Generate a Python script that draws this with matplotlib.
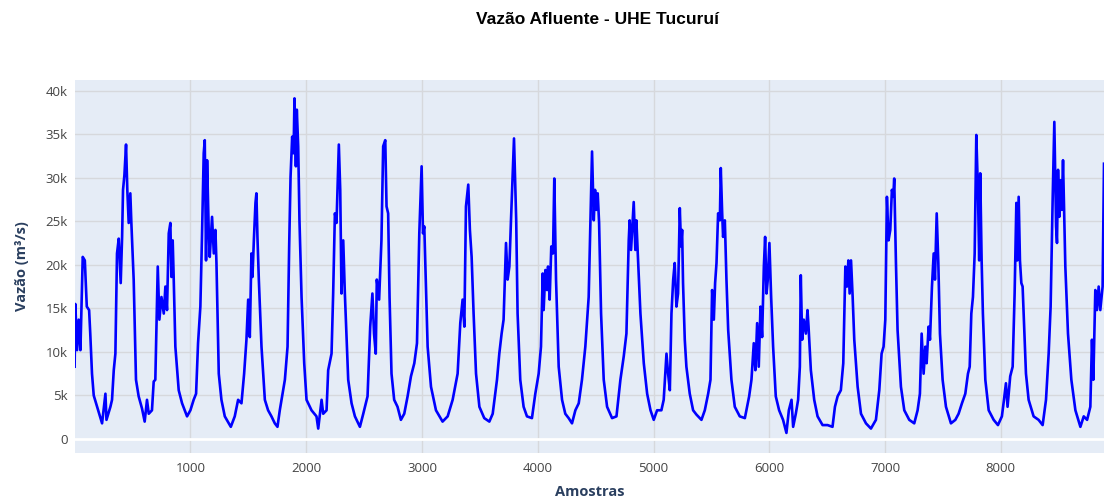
import matplotlib

matplotlib.use("Agg")
import matplotlib.pyplot as plt
from matplotlib.ticker import FuncFormatter


TITLE = "Vazão Afluente - UHE Tucuruí"
X_LABEL = "Amostras"
Y_LABEL = "Vazão (m³/s)"

# sample index at peaks, troughs and spikes
amostras = [
    0, 6, 21, 35, 50, 70, 88, 105, 125, 135, 150, 165, 194, 237, 266, 275, 309, 323, 338, 352,
    366, 381, 398, 410, 418, 430, 444, 455, 467, 481, 490, 510, 530, 553, 582, 605, 625, 640, 668, 683,
    697, 718, 732, 750, 770, 784, 798, 813, 827, 836, 847, 856, 870, 899, 928, 971, 1000, 1028, 1049, 1066,
    1086, 1100, 1115, 1124, 1135, 1144, 1158, 1167, 1187, 1202, 1216, 1225, 1245, 1268, 1297, 1349, 1383, 1412, 1441, 1464,
    1484, 1499, 1513, 1527, 1536, 1548, 1562, 1570, 1579, 1591, 1614, 1643, 1671, 1700, 1729, 1752, 1772, 1787, 1816, 1839,
    1853, 1865, 1879, 1891, 1899, 1911, 1919, 1931, 1942, 1960, 1983, 2003, 2046, 2089, 2104, 2133, 2147, 2176, 2190, 2219,
    2233, 2248, 2262, 2282, 2294, 2305, 2320, 2334, 2363, 2392, 2421, 2464, 2493, 2530, 2553, 2572, 2586, 2601, 2610, 2630,
    2639, 2650, 2665, 2683, 2694, 2708, 2720, 2737, 2760, 2789, 2818, 2847, 2876, 2905, 2934, 2957, 2977, 2997, 3009, 3020,
    3032, 3049, 3078, 3121, 3178, 3222, 3265, 3308, 3331, 3351, 3366, 3380, 3400, 3414, 3429, 3446, 3467, 3496, 3538, 3582,
    3611, 3648, 3668, 3688, 3705, 3726, 3740, 3755, 3769, 3795, 3814, 3826, 3849, 3878, 3907, 3950, 3979, 4008, 4028, 4043,
    4051, 4066, 4080, 4089, 4103, 4117, 4132, 4143, 4158, 4181, 4210, 4238, 4267, 4296, 4325, 4354, 4382, 4411, 4440, 4455,
    4469, 4484, 4495, 4507, 4518, 4530, 4547, 4570, 4599, 4642, 4680, 4714, 4743, 4766, 4786, 4794, 4806, 4820, 4829, 4843,
    4852, 4864, 4887, 4916, 4945, 4974, 5002, 5031, 5068, 5088, 5112, 5126, 5141, 5155, 5170, 5183, 5198, 5212, 5227, 5238,
    5247, 5255, 5270, 5284, 5313, 5342, 5371, 5414, 5443, 5472, 5492, 5506, 5521, 5532, 5544, 5558, 5573, 5581, 5593, 5601,
    5616, 5630, 5645, 5673, 5702, 5745, 5789, 5826, 5846, 5866, 5880, 5895, 5909, 5924, 5938, 5953, 5964, 5976, 5987, 6001,
    6016, 6033, 6056, 6085, 6119, 6148, 6169, 6192, 6206, 6229, 6249, 6264, 6272, 6284, 6298, 6316, 6330, 6339, 6359, 6388,
    6417, 6460, 6503, 6546, 6567, 6590, 6618, 6639, 6657, 6671, 6683, 6694, 6706, 6720, 6734, 6763, 6792, 6835, 6878, 6921,
    6950, 6970, 6987, 7002, 7016, 7030, 7045, 7059, 7071, 7079, 7094, 7108, 7137, 7166, 7209, 7252, 7281, 7301, 7316, 7333,
    7348, 7359, 7376, 7388, 7405, 7420, 7431, 7446, 7460, 7474, 7497, 7526, 7569, 7607, 7635, 7664, 7693, 7716, 7731, 7745,
    7759, 7774, 7788, 7802, 7813, 7822, 7834, 7845, 7866, 7895, 7938, 7975, 8009, 8027, 8044, 8058, 8081, 8102, 8119, 8134,
    8142, 8154, 8165, 8177, 8188, 8200, 8217, 8240, 8283, 8326, 8361, 8390, 8413, 8430, 8448, 8462, 8477, 8485, 8494, 8505,
    8514, 8526, 8537, 8549, 8557, 8580, 8609, 8644, 8687, 8716, 8745, 8773, 8787, 8799, 8816, 8830, 8845, 8859, 8879, 8891,
]

# inflow in m3/s at the samples above
vazao = [
    8300, 15500, 10200, 13700, 10200, 20900, 20500, 15200, 14800, 12100, 7500, 5000, 3700, 1800, 5200, 2200, 3700, 4500, 7900, 9800,
    21300, 23000, 17900, 23200, 28600, 30300, 33800, 28600, 24800, 28200, 24800, 18300, 6800, 4900, 3500, 2000, 4500, 2900, 3300, 6600,
    6800, 19800, 13700, 16300, 14400, 17500, 14800, 23600, 24800, 18600, 22800, 18300, 10600, 5600, 4100, 2600, 3300, 4500, 5200, 11000,
    15200, 23200, 32800, 34300, 20500, 32000, 24000, 20900, 25500, 21300, 24000, 20200, 7500, 4500, 2600, 1400, 2600, 4500, 4100, 7500,
    11400, 16000, 11700, 21300, 18600, 22800, 27100, 28200, 23200, 18300, 10600, 4500, 3300, 2600, 1800, 1400, 3300, 4500, 6800, 10600,
    22100, 30100, 34700, 32800, 39100, 31300, 37800, 33600, 25100, 16300, 8700, 4500, 3300, 2600, 1200, 4500, 2900, 3300, 7900, 9800,
    16700, 25900, 24800, 33800, 28600, 16700, 22800, 16700, 6800, 4100, 2600, 1400, 2900, 4900, 12900, 16700, 12100, 9800, 18300, 16000,
    19000, 22800, 33600, 34300, 26700, 25900, 16300, 7500, 4500, 3700, 2200, 2900, 4900, 7200, 8700, 11000, 23600, 31300, 23600, 24400,
    18600, 10600, 6000, 3300, 2000, 2600, 4500, 7500, 13300, 16000, 12900, 26700, 29200, 24000, 20900, 14400, 7500, 3700, 2400, 2000,
    2900, 6800, 9800, 12100, 13700, 22500, 18300, 19800, 25100, 34500, 25100, 14400, 6800, 3700, 2600, 2400, 5200, 7500, 10600, 19000,
    14800, 19400, 17100, 19800, 16000, 22100, 21300, 29900, 18300, 8300, 4500, 2900, 2400, 1800, 3300, 4100, 6800, 10600, 16300, 25100,
    33000, 25100, 28600, 26300, 28200, 24800, 14400, 6800, 3700, 2400, 2600, 6800, 9500, 12100, 22800, 25100, 21700, 25100, 27200, 21700,
    25100, 21300, 14400, 8700, 5200, 3300, 2200, 3300, 3300, 4500, 9800, 7500, 5600, 14400, 18300, 20200, 15200, 16700, 26500, 22100,
    24000, 17900, 11400, 8300, 5200, 3300, 2800, 2200, 3300, 5200, 6800, 17100, 13700, 17900, 20200, 25900, 25100, 31100, 25900, 23200,
    25100, 18300, 12500, 6800, 3700, 2600, 2400, 4900, 6800, 11000, 7900, 13300, 8300, 15200, 11700, 19800, 23200, 16700, 18300, 22500,
    16300, 10600, 4900, 3300, 2200, 700, 3300, 4500, 1400, 2900, 4500, 8300, 18800, 11400, 13700, 12100, 14800, 12900, 7900, 4500,
    2600, 1600, 1600, 1400, 3700, 4900, 5600, 8700, 19800, 17500, 20500, 16700, 20500, 16300, 11400, 6000, 2900, 1800, 1200, 2200,
    5600, 9800, 10600, 13700, 27800, 22800, 24000, 28600, 27800, 29900, 20200, 12500, 6000, 3300, 2200, 1800, 3300, 5200, 12100, 7500,
    10600, 8700, 12900, 11400, 17500, 21300, 18300, 25900, 20200, 12100, 6800, 3700, 1800, 2200, 2900, 4100, 5200, 7500, 8300, 14400,
    16300, 21300, 34900, 28600, 20500, 30500, 20500, 14400, 6800, 3300, 2200, 1600, 2600, 4500, 6400, 3700, 7200, 8300, 16700, 27100,
    20500, 27800, 20500, 17900, 17500, 13300, 7500, 4500, 2600, 2200, 1600, 4500, 9800, 15200, 27800, 36400, 24400, 22500, 30900, 25500,
    29700, 26300, 32000, 24400, 19800, 12100, 6800, 3300, 1400, 2600, 2200, 3700, 11400, 6800, 17100, 14800, 17500, 14800, 17500, 31600,
]

Y_TICKS = [0, 5000, 10000, 15000, 20000, 25000, 30000, 35000, 40000]
X_TICKS = [1000, 2000, 3000, 4000, 5000, 6000, 7000, 8000]


def k_format(value, _pos):
    if value == 0:
        return "0"
    return f"{int(round(value / 1000))}k"


def main() -> None:
    fig = plt.figure(figsize=(11.04, 5.03), dpi=100)
    ax = fig.add_axes([0.0676, 0.100, 0.9324, 0.741])
    ax.set_facecolor("#E5ECF6")

    ax.plot(amostras, vazao, color="#0000FF", linewidth=1.9, solid_joinstyle="round", zorder=3)

    ax.set_xlim(amostras[0], amostras[-1])
    ax.set_ylim(-1570, 41210)
    ax.set_xticks(X_TICKS)
    ax.set_yticks(Y_TICKS)
    ax.yaxis.set_major_formatter(FuncFormatter(k_format))

    ax.grid(True, color="#D6D8DC", linewidth=1.0, zorder=0)
    ax.axhline(0, color="white", linewidth=2.0, zorder=1)
    ax.set_axisbelow(True)

    for spine in ax.spines.values():
        spine.set_visible(False)
    ax.tick_params(axis="both", length=0, labelsize=9.5, labelcolor="#444444")
    ax.tick_params(axis="x", pad=7)
    ax.tick_params(axis="y", pad=5)
    for lbl in ax.get_xticklabels() + ax.get_yticklabels():
        lbl.set_fontfamily("Open Sans")

    ax.set_xlabel(X_LABEL, fontsize=10.5, fontweight="bold", color="#2A3F5F",
                  fontfamily="Open Sans", labelpad=7)
    ax.set_ylabel(Y_LABEL, fontsize=10.5, fontweight="bold", color="#2A3F5F",
                  fontfamily="Open Sans", labelpad=12)

    fig.text(0.541, 0.962, TITLE, ha="center", va="center", fontsize=12.5,
             fontweight="bold", color="black", fontfamily="Liberation Sans")

    fig.savefig("out.png", dpi=100)
    plt.close(fig)


if __name__ == "__main__":
    main()
